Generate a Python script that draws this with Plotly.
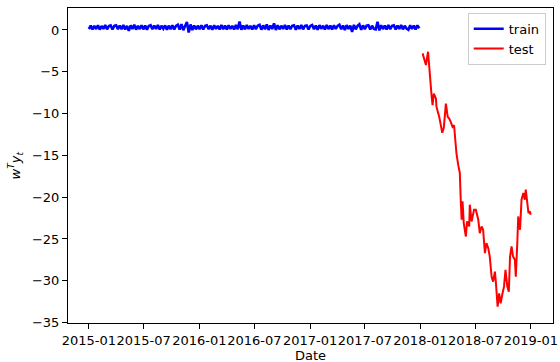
import pandas as pd
import plotly.graph_objects as go

# ---- data ----
train_start = "2015-01-01"
train_step = "6D"
train_values = [
    0.10, 0.52, 0.08, 0.50, 0.12, 0.55, 0.05, 0.48, 0.14, 0.58, 0.08, 0.47, 0.54, 0.06, 0.50,
    0.56, 0.10, 0.52, 0.09, 0.60, 0.07, 0.49, -0.10, 0.55, 0.12, 0.62, 0.05, 0.50, 0.11, 0.57,
    0.08, 0.53, 0.04, 0.49, 0.58, 0.09, 0.52, 0.13, 0.59, 0.06, 0.50, 0.15, 0.55, 0.03, 0.51,
    0.10, 0.57, 0.07, 0.50, 0.63, 0.05, 0.70, -0.02, 0.58, 0.95, -0.30, 0.66, 0.00, 0.54, 0.08,
    0.51, 0.11, 0.56, 0.06, 0.49, 0.55, 0.09, 0.51, 0.04, 0.57, 0.13, 0.50, 0.07, 0.59, 0.10,
    0.53, 0.05, 0.56, 0.14, 0.49, 0.07, 0.61, 0.10, 1.00, 0.02, 0.54, 0.08, 0.58, 0.12, 0.50,
    0.06, 0.57, 0.11, 0.52, 0.63, 0.04, 0.55, 0.09, 0.66, 0.01, 0.53, 0.12, 0.78, 0.00, 0.57,
    0.08, 0.51, 0.14, 0.59, 0.05, 0.54, 0.10, 0.49, 0.56, 0.03, 0.52, 0.12, 0.58, 0.08, 0.50,
    0.55, 0.06, 0.48, 0.60, 0.10, 0.53, 0.02, 0.57, 0.15, 0.51, 0.07, 0.59, 0.11, 0.52, 0.05,
    0.56, 0.13, 0.49, 0.63, 0.08, 0.54, -0.02, 0.58, 0.12, 0.52, -0.22, 0.61, 0.08, 0.50, 0.68,
    0.03, 0.55, 0.10, 0.53, 0.58, 0.06, 0.51, 0.14, 0.07, 0.98, -0.05, 0.57, 0.11, 0.52, 0.07,
    0.59, 0.10, 0.49, 0.55, 0.05, 0.53, 0.13, 0.58, 0.08, 0.50, 0.16, 0.03, 0.56, 0.12, 0.52,
    0.07, 0.55, 0.20,
]
train_dates = pd.date_range(train_start, periods=len(train_values), freq=train_step)

test_dates = [
    "2018-01-08", "2018-01-19", "2018-01-26", "2018-01-30", "2018-02-03", "2018-02-07",
    "2018-02-10", "2018-02-14", "2018-02-21", "2018-02-23", "2018-03-04", "2018-03-14",
    "2018-03-19", "2018-03-26", "2018-04-01", "2018-04-06", "2018-04-11", "2018-04-17",
    "2018-04-22", "2018-04-26", "2018-04-30", "2018-05-06", "2018-05-11", "2018-05-14",
    "2018-05-17", "2018-05-20", "2018-05-24", "2018-05-31", "2018-06-04", "2018-06-11",
    "2018-06-13", "2018-06-19", "2018-06-27", "2018-07-03", "2018-07-11", "2018-07-16",
    "2018-07-22", "2018-07-27", "2018-08-02", "2018-08-07", "2018-08-13", "2018-08-18",
    "2018-08-24", "2018-08-29", "2018-09-04", "2018-09-07", "2018-09-13", "2018-09-18",
    "2018-09-23", "2018-09-28", "2018-10-04", "2018-10-09", "2018-10-15", "2018-10-20",
    "2018-10-24", "2018-10-29", "2018-11-03", "2018-11-09", "2018-11-12", "2018-11-17",
    "2018-11-20", "2018-11-26", "2018-12-01", "2018-12-07", "2018-12-12", "2018-12-15",
    "2018-12-20", "2018-12-24", "2018-12-29", "2018-12-31",
]
test_values = [
    -2.8, -4.2, -2.6, -4.4, -7.2, -8.0,
    -9.0, -7.6, -8.2, -9.2, -10.4, -12.3,
    -11.7, -8.8, -10.4, -10.6, -11.0, -11.6,
    -11.4, -13.1, -14.8, -16.2, -17.1, -20.3,
    -22.7, -20.5, -23.1, -24.7, -22.9, -23.5,
    -20.9, -22.9, -21.5, -21.5, -22.7, -24.3,
    -23.5, -23.9, -26.7, -25.5, -26.1, -27.1,
    -29.5, -30.1, -28.9, -30.1, -33.1, -31.5,
    -32.7, -31.7, -30.7, -28.7, -30.7, -31.3,
    -27.1, -25.9, -27.1, -27.5, -29.5, -25.5,
    -22.3, -23.9, -20.3, -19.5, -20.3, -19.1,
    -20.7, -21.9, -21.7, -22.1,
]

x_ticks = ["2015-01", "2015-07", "2016-01", "2016-07", "2017-01",
           "2017-07", "2018-01", "2018-07", "2019-01"]
y_ticks = [0, -5, -10, -15, -20, -25, -30, -35]

# ---- figure ----
font = "DejaVu Sans, Liberation Sans, sans-serif"
fig = go.Figure()
fig.add_trace(go.Scatter(x=train_dates, y=train_values, mode="lines", name="train",
                         line=dict(color="#0000ff", width=2.6)))
fig.add_trace(go.Scatter(x=test_dates, y=test_values, mode="lines", name="test",
                         line=dict(color="#ff0000", width=2)))

axis_common = dict(showline=True, linecolor="black", linewidth=1, mirror=True,
                   ticks="outside", ticklen=5, tickwidth=1, tickcolor="black",
                   showgrid=False, zeroline=False, automargin=False,
                   tickfont=dict(family=font, size=13, color="black"))

fig.update_layout(
    width=560, height=362,
    margin=dict(l=68, r=7, t=8, b=39),
    paper_bgcolor="white", plot_bgcolor="white",
    font=dict(family=font, size=13, color="black"),
    showlegend=True,
    legend=dict(x=0.985, y=0.985, xanchor="right", yanchor="top",
                bgcolor="rgba(255,255,255,0.8)", bordercolor="#cccccc", borderwidth=1,
                font=dict(family=font, size=13, color="black"),
                itemwidth=30),
    xaxis=dict(axis_common, type="date",
               range=["2014-10-24", "2019-03-15"],
               tickvals=[t + "-01" for t in x_ticks], ticktext=x_ticks, tickangle=0),
    yaxis=dict(axis_common, range=[-35.05, 2.63],
               tickvals=y_ticks,
               ticktext=[("−" + str(-v)) if v < 0 else str(v) for v in y_ticks]),
    annotations=[
        dict(text="Date", xref="paper", yref="paper", x=0.5, y=0, yshift=-32,
             xanchor="center", yanchor="middle", showarrow=False,
             font=dict(family=font, size=13, color="black")),
        dict(text="<i>w</i><sup><i>T</i></sup><i>y</i><sub><i>t</i></sub>",
             xref="paper", yref="paper", x=0, y=0.5, xshift=-53, textangle=-90,
             xanchor="center", yanchor="middle", showarrow=False,
             font=dict(family=font, size=13, color="black")),
    ],
)

fig.write_html("out.html",
               config={"displayModeBar": False},
               post_script="document.body.style.margin='0';document.body.style.overflow='hidden';")
